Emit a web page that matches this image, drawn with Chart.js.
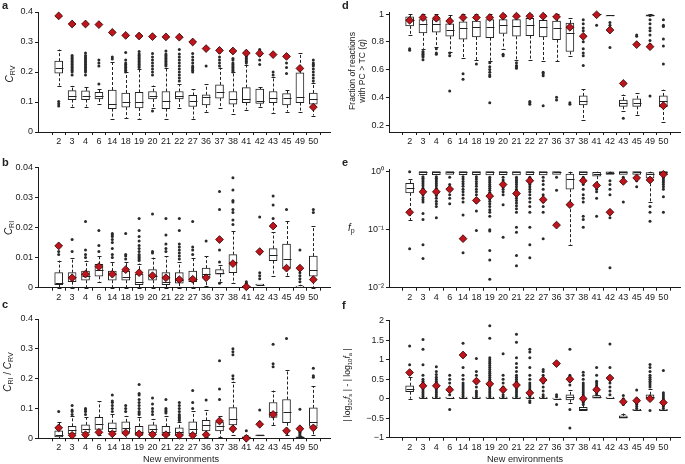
<!DOCTYPE html>
<html lang="en">
<head>
<meta charset="UTF-8">
<title>Box plots per new environment</title>
<script src="https://cdn.jsdelivr.net/npm/chart.js"></script>
<style>
    body {
        margin: 0;
        width: 685px;
        height: 464px;
        position: relative;
        overflow: hidden;
        background: #fff;
        font-family: "Liberation Sans", Arial, sans-serif;
        color: #222;
    }
    canvas { position: absolute; }
    .tag { position: absolute; font-weight: bold; font-size: 11px; line-height: 12px; }
    .ylab {
        position: absolute;
        font-size: 9px;
        line-height: 10px;
        white-space: nowrap;
        text-align: center;
        transform: translate(-50%, -50%) rotate(-90deg);
    }
    .xlab { position: absolute; font-size: 9.2px; transform: translateX(-50%); white-space: nowrap; }
    sub { font-size: 70%; vertical-align: -0.35em; line-height: 0; }
    i { font-style: italic; }
</style>
</head>
<body>
<canvas id="chartA"></canvas>
<canvas id="chartB"></canvas>
<canvas id="chartC"></canvas>
<canvas id="chartD"></canvas>
<canvas id="chartE"></canvas>
<canvas id="chartF"></canvas>

<div class="tag" style="left:2px; top:-1px;">a</div>
<div class="tag" style="left:2px; top:156px;">b</div>
<div class="tag" style="left:2px; top:298px;">c</div>
<div class="tag" style="left:342px; top:-1px;">d</div>
<div class="tag" style="left:342px; top:156px;">e</div>
<div class="tag" style="left:342px; top:299px;">f</div>

<div class="ylab" style="left:10px; top:74px; font-size:10px;"><i>C</i><sub>RV</sub></div>
<div class="ylab" style="left:9px; top:228px; font-size:10px;"><i>C</i><sub>RI</sub></div>
<div class="ylab" style="left:8px; top:372px; font-size:10px;"><i>C</i><sub>RI</sub> / <i>C</i><sub>RV</sub></div>
<div class="ylab" style="left:357px; top:71px; font-size:8.6px;">Fraction of reactions<br>with PC &gt; TC (<i>q</i>)</div>
<div style="position:absolute; left:348px; top:222px; font-size:10px;"><i>f</i><sub>p</sub></div>
<div class="ylab" style="left:347px; top:385px; font-size:8.6px;">| log<sub>10</sub><i>f</i><sub>s</sub> | - | log<sub>10</sub><i>f</i><sub>a</sub> |</div>

<div class="xlab" style="left:181px; top:454px;">New environments</div>
<div class="xlab" style="left:525px; top:454px;">New environments</div>

<script>
// categories
const env = ['2', '3', '4', '6', '14', '18', '19', '20', '21', '22', '27', '36', '37', '38', '41', '42', '43', '45', '49', '50'];

// box stats per environment: [whisker low, q1, median, q3, whisker high]
const boxA = [
    [0.155, 0.196, 0.215, 0.236, 0.275], [0.085, 0.108, 0.12, 0.138, 0.155], [0.085, 0.108, 0.12, 0.137, 0.15],
    [0.095, 0.11, 0.12, 0.132, 0.145], [0.045, 0.078, 0.095, 0.14, 0.235], [0.047, 0.083, 0.1, 0.13, 0.2],
    [0.045, 0.08, 0.1, 0.132, 0.21], [0.08, 0.11, 0.12, 0.135, 0.155], [0.045, 0.078, 0.105, 0.135, 0.215],
    [0.08, 0.11, 0.12, 0.135, 0.16], [0.045, 0.085, 0.102, 0.122, 0.142], [0.068, 0.09, 0.118, 0.124, 0.16],
    [0.08, 0.113, 0.135, 0.157, 0.215], [0.06, 0.093, 0.11, 0.135, 0.2], [0.075, 0.098, 0.11, 0.148, 0.225],
    [0.082, 0.095, 0.105, 0.143, 0.15], [0.062, 0.098, 0.112, 0.135, 0.185], [0.068, 0.09, 0.112, 0.128, 0.14],
    [0.067, 0.098, 0.117, 0.197, 0.262], [0.055, 0.093, 0.11, 0.13, 0.165]
];
const outA = [
    [0.087, 0.094, 0.102],
    [0.19, 0.2, 0.205, 0.21, 0.215, 0.22, 0.225, 0.23, 0.235, 0.24, 0.245, 0.25, 0.255],
    [0.19, 0.2, 0.205, 0.21, 0.215, 0.22, 0.225, 0.23, 0.235, 0.24, 0.245, 0.25, 0.255, 0.263],
    [0.16, 0.22, 0.23, 0.24],
    [0.243, 0.25],
    [0.2, 0.205, 0.21, 0.215, 0.22, 0.225, 0.23, 0.24, 0.265],
    [0.215, 0.22, 0.225, 0.23, 0.235, 0.24, 0.245, 0.25, 0.255, 0.26, 0.268],
    [0.07, 0.19, 0.2, 0.21, 0.22, 0.23, 0.24, 0.25, 0.262],
    [0.22, 0.225, 0.23, 0.235, 0.24, 0.245, 0.25, 0.255, 0.26, 0.27],
    [0.17, 0.18, 0.19, 0.2, 0.21, 0.22, 0.23, 0.24, 0.25, 0.26, 0.275],
    [0.2, 0.205, 0.21, 0.215, 0.22, 0.23, 0.24, 0.25, 0.262],
    [0.22],
    [0.22, 0.23, 0.24, 0.25, 0.265],
    [0.2, 0.205, 0.21, 0.215, 0.22, 0.225, 0.23, 0.24, 0.245],
    [0.23, 0.235, 0.24, 0.245, 0.25, 0.255, 0.26, 0.27],
    [0.225, 0.24, 0.255, 0.265, 0.275],
    [0.19, 0.2],
    [0.195, 0.215, 0.23],
    [],
    [0.17, 0.18, 0.19, 0.2, 0.21, 0.22, 0.225, 0.23, 0.24]
];
const diaA = [0.387, 0.36, 0.36, 0.358, 0.332, 0.322, 0.32, 0.318, 0.317, 0.316, 0.3, 0.278, 0.272, 0.27, 0.263, 0.262, 0.258, 0.252, 0.212, 0.083];

const boxB = [
    [0, 0.001, 0.0015, 0.005, 0.009], [0, 0.002, 0.0035, 0.005, 0.01], [0, 0.0025, 0.004, 0.0055, 0.009],
    [0.002, 0.0038, 0.0058, 0.0078, 0.0105], [0, 0.0025, 0.0045, 0.0055, 0.0085], [0, 0.0025, 0.0035, 0.0055, 0.0085],
    [0, 0.001, 0.002, 0.0045, 0.008], [0, 0.0025, 0.004, 0.006, 0.01], [0, 0.001, 0.002, 0.005, 0.0105],
    [0, 0.0015, 0.0025, 0.005, 0.0085], [0, 0.002, 0.003, 0.0055, 0.01], [0.0005, 0.0035, 0.0045, 0.0065, 0.0105],
    [0.002, 0.0045, 0.005, 0.006, 0.0075], [0.0015, 0.005, 0.0085, 0.011, 0.019], [0, 0, 0.0002, 0.0005, 0.001],
    [0.0008, 0.0009, 0.001, 0.0012, 0.0012], [0.004, 0.009, 0.011, 0.013, 0.0185], [0.004, 0.0065, 0.0095, 0.0145, 0.022],
    [0, 0, 0.0003, 0.0005, 0.001], [0, 0.0038, 0.006, 0.0105, 0.0205]
];
const outB = [
    [0.011, 0.012], [0.012, 0.016], [0.01, 0.011, 0.0125, 0.022], [0.012, 0.014, 0.019],
    [0.01, 0.011, 0.013, 0.015, 0.016, 0.017, 0.0175, 0.018],
    [0.0095, 0.0105, 0.011, 0.018],
    [0.009, 0.0095, 0.01, 0.0105, 0.011, 0.012, 0.013, 0.014, 0.0155, 0.017, 0.019, 0.023],
    [0.0115, 0.012, 0.0245],
    [0.012, 0.013, 0.0145, 0.0175, 0.023],
    [0.0095, 0.0105, 0.0115, 0.0125, 0.0135, 0.0145, 0.019, 0.023],
    [0.011, 0.0125, 0.0135, 0.022],
    [0.0155],
    [0.0015, 0.0085, 0.0125, 0.026, 0.032],
    [0.021, 0.0225, 0.025, 0.026, 0.0285, 0.029, 0.0325, 0.0365],
    [0.0015, 0.002],
    [0.003, 0.004, 0.005, 0.0115, 0.0235],
    [0.023, 0.0275, 0.0305],
    [0.026],
    [0.002, 0.003, 0.004, 0.005, 0.0065, 0.0125],
    [0.025, 0.026]
];
const diaB = [0.0139, 0.0033, 0.0045, 0.007, 0.0045, 0.006, 0.005, 0.004, 0.0033, 0.0027, 0.0028, 0.0033, 0.016, 0.008, 0.0003, 0.012, 0.0205, 0.0065, 0.0065, 0.0027];

const boxC = [
    [0, 0.005, 0.012, 0.025, 0.055], [0, 0.015, 0.028, 0.04, 0.075], [0, 0.018, 0.03, 0.045, 0.07],
    [0.01, 0.03, 0.048, 0.07, 0.125], [0, 0.022, 0.035, 0.052, 0.08], [0, 0.02, 0.035, 0.055, 0.075],
    [0, 0.01, 0.02, 0.04, 0.07], [0, 0.018, 0.03, 0.045, 0.065], [0, 0.01, 0.02, 0.04, 0.075],
    [0, 0.01, 0.02, 0.035, 0.055], [0, 0.015, 0.03, 0.055, 0.09], [0.005, 0.025, 0.045, 0.06, 0.095],
    [0.005, 0.025, 0.04, 0.055, 0.075], [0.01, 0.045, 0.065, 0.103, 0.19], [0, 0, 0.003, 0.005, 0.01],
    [0.008, 0.008, 0.01, 0.012, 0.012], [0.045, 0.07, 0.088, 0.12, 0.16], [0.01, 0.052, 0.088, 0.13, 0.228],
    [0, 0, 0.003, 0.005, 0.008], [0.01, 0.04, 0.055, 0.102, 0.175]
];
const outC = [
    [0.09], [0.08, 0.09, 0.095, 0.11], [0.08, 0.09, 0.095, 0.1], [],
    [0.09, 0.1, 0.11, 0.12, 0.125, 0.145],
    [0.09, 0.1, 0.11],
    [0.08, 0.085, 0.09, 0.1, 0.11, 0.12, 0.13, 0.145, 0.15, 0.18],
    [0.08, 0.09, 0.1, 0.115, 0.135],
    [0.085, 0.09, 0.095, 0.1, 0.13],
    [0.06, 0.065, 0.07, 0.075, 0.08, 0.09, 0.1, 0.11, 0.12],
    [0.1, 0.12, 0.16],
    [0.128],
    [0.13, 0.165, 0.26],
    [0.2, 0.21, 0.28, 0.29, 0.3],
    [0.025],
    [0.045, 0.05, 0.055, 0.095],
    [0.24, 0.25, 0.315],
    [0.335],
    [0.01, 0.015, 0.02, 0.025, 0.03, 0.035, 0.097],
    [0.205, 0.21, 0.235]
];
const diaC = [0.035, 0.01, 0.012, 0.02, 0.015, 0.018, 0.015, 0.013, 0.012, 0.01, 0.01, 0.012, 0.058, 0.032, 0.0, 0.047, 0.08, 0.025, 0.032, 0.035];

const boxD = [
    [0.85, 0.915, 0.96, 0.98, 1.0], [0.75, 0.865, 0.925, 0.96, 1.0], [0.76, 0.87, 0.93, 0.96, 1.0],
    [0.73, 0.84, 0.885, 0.93, 0.99], [0.68, 0.82, 0.9, 0.945, 1.0], [0.67, 0.835, 0.905, 0.95, 1.0],
    [0.66, 0.83, 0.91, 0.96, 1.0], [0.75, 0.86, 0.92, 0.96, 1.0], [0.67, 0.84, 0.915, 0.96, 1.0],
    [0.67, 0.845, 0.92, 0.97, 1.0], [0.66, 0.835, 0.905, 0.955, 1.0], [0.66, 0.815, 0.9, 0.95, 1.0],
    [0.7, 0.73, 0.865, 0.935, 0.97], [0.24, 0.345, 0.375, 0.41, 0.46], [0.99, 0.995, 1.0, 1.0, 1.0],
    [0.985, 0.985, 0.99, 0.99, 0.99], [0.3, 0.335, 0.36, 0.38, 0.42], [0.275, 0.335, 0.36, 0.39, 0.43],
    [0.985, 0.985, 0.99, 0.995, 1.0], [0.22, 0.33, 0.37, 0.41, 0.455]
];
const outD = [
    [0.74, 0.75], [0.67, 0.69, 0.7, 0.71, 0.72, 0.73], [0.71, 0.72, 0.75], [0.445, 0.7, 0.72],
    [0.53, 0.57], [0.64], [0.36, 0.55, 0.56, 0.58, 0.6, 0.62, 0.65], [0.7, 0.71],
    [0.61, 0.62, 0.63, 0.65], [0.35, 0.36, 0.37], [0.34, 0.555, 0.57, 0.58], [0.38, 0.4],
    [0.35, 0.36], [0.63, 0.7, 0.72, 0.75, 0.8, 0.85, 0.88, 0.9, 0.93, 0.96], [0.92],
    [0.76, 0.9, 0.92, 0.94], [0.25], [0.84, 0.85],
    [0.41, 0.78, 0.81, 0.85, 0.88, 0.9, 0.93, 0.96, 0.99], [0.64, 0.77, 0.82, 0.91, 0.92, 0.96]
];
const diaD = [0.955, 0.975, 0.97, 0.95, 0.975, 0.975, 0.975, 0.985, 0.985, 0.985, 0.985, 0.98, 0.905, 0.84, 0.995, 0.885, 0.5, 0.78, 0.765, 0.34];

const boxE = [
    [0.147, 0.43, 0.53, 0.63, 0.74], [0.89, 0.89, 0.97, 1.0, 1.0], [0.89, 0.89, 0.97, 1.0, 1.0],
    [0.9, 0.9, 0.97, 1.0, 1.0], [0.89, 0.89, 0.97, 1.0, 1.0], [0.89, 0.89, 0.97, 1.0, 1.0],
    [0.88, 0.88, 0.97, 1.0, 1.0], [0.89, 0.89, 0.97, 1.0, 1.0], [0.88, 0.88, 0.97, 1.0, 1.0],
    [0.89, 0.89, 0.97, 1.0, 1.0], [0.88, 0.88, 0.97, 1.0, 1.0], [0.9, 0.9, 0.97, 1.0, 1.0],
    [0.055, 0.5, 0.74, 0.91, 1.0], [0.89, 0.89, 0.97, 1.0, 1.0], [0.6, 0.84, 0.93, 0.975, 1.0],
    [0.9, 0.9, 0.96, 0.99, 1.0], [0.9, 0.9, 0.97, 1.0, 1.0], [0.9, 0.9, 0.97, 1.0, 1.0],
    [0.3, 0.77, 0.9, 0.97, 1.0], [0.88, 0.88, 0.97, 1.0, 1.0]
];
const outE = [
    [0.047, 1.0],
    [0.032, 0.055, 0.15, 0.19, 0.3, 0.33, 0.36, 0.4, 0.44, 0.48, 0.52, 0.57, 0.62, 0.67, 0.72, 0.77, 0.82],
    [0.16, 0.25, 0.28, 0.31, 0.35, 0.39, 0.43, 0.47, 0.52, 0.57, 0.62, 0.67, 0.72, 0.77, 0.82],
    [0.28, 0.35, 0.4, 0.6, 0.8],
    [0.04, 0.18, 0.3, 0.35, 0.4, 0.45, 0.5, 0.56, 0.62, 0.68, 0.75, 0.82],
    [0.097, 0.21, 0.3, 0.4, 0.45, 0.5, 0.56, 0.62, 0.68, 0.75, 0.82],
    [0.014, 0.03, 0.044, 0.095, 0.1, 0.17, 0.2, 0.22, 0.25, 0.28, 0.31, 0.34, 0.37, 0.4, 0.44, 0.48, 0.52, 0.56, 0.6, 0.65, 0.7, 0.75, 0.8],
    [0.074, 0.27, 0.4, 0.45, 0.5, 0.55, 0.65, 0.72, 0.8],
    [0.024, 0.036, 0.09, 0.11, 0.2, 0.23, 0.26, 0.29, 0.32, 0.35, 0.38, 0.42, 0.46, 0.5, 0.55, 0.6, 0.65, 0.7, 0.75, 0.8],
    [0.033, 0.055, 0.11, 0.2, 0.25, 0.3, 0.35, 0.4, 0.45, 0.5, 0.55, 0.6, 0.65, 0.7, 0.75, 0.8],
    [0.07, 0.2, 0.25, 0.3, 0.35, 0.4, 0.5, 0.6, 0.7, 0.8],
    [0.48, 0.8],
    [],
    [0.11, 0.15, 0.17, 0.3, 0.35, 0.4, 0.5, 0.6, 0.7, 0.8],
    [0.17, 0.35, 0.45, 0.5],
    [0.022, 0.16, 0.4, 0.5, 0.6, 0.7],
    [0.3, 0.7, 0.8],
    [0.55, 0.7],
    [0.14, 0.2, 0.25],
    [0.2, 0.37, 0.5, 0.55, 0.6, 0.65, 0.7, 0.75, 0.8]
];
const diaE = [0.2, 0.45, 0.45, 0.5, 0.07, 0.32, 0.38, 0.6, 0.42, 0.7, 0.33, 0.12, 0.27, 0.7, 0.58, 0.2, 0.68, 0.78, 0.72, 0.9];

const boxF = [
    [0.0, 0.18, 0.26, 0.333, 0.55], [0, 0, 0.01, 0.04, 0.04], [0, 0, 0.01, 0.04, 0.04],
    [0, 0, 0.01, 0.04, 0.04], [0, 0, 0.01, 0.04, 0.04], [0, 0, 0.01, 0.04, 0.04],
    [0, 0, 0.01, 0.04, 0.04], [0, 0, 0.01, 0.04, 0.04], [0, 0, 0.01, 0.04, 0.04],
    [0, 0, 0.01, 0.04, 0.04], [0, 0, 0.01, 0.04, 0.04], [0, 0, 0, 0.01, 0.01],
    [-0.1, -0.03, 0.05, 0.1, 0.22], [-0.31, -0.31, -0.27, -0.22, 0.0], [0, 0, 0.04, 0.08, 0.1],
    [0, 0, 0.02, 0.04, 0.04], [-0.5, -0.5, -0.47, -0.44, -0.38], [-0.3, -0.3, -0.29, -0.27, -0.27],
    [0, 0, 0.05, 0.1, 0.25], [-0.3, -0.3, -0.29, -0.27, -0.27]
];
const outF = [
    [0.87, 1.35],
    [0.05, 0.1, 0.15, 0.2, 0.25, 0.3, 0.35, 0.4, 0.45, 0.5, 0.6, 0.87, 1.27, 1.52],
    [0.05, 0.1, 0.15, 0.2, 0.25, 0.3, 0.35, 0.4, 0.45, 0.5, 0.55, 0.62, 0.7, 0.82],
    [-0.28, 0.1, 0.2, 0.3, 0.4, 0.5, 0.6],
    [0.05, 0.1, 0.15, 0.2, 0.25, 0.3, 0.35, 0.4, 0.5, 0.6, 0.8, 1.42],
    [0.05, 0.1, 0.15, 0.2, 0.3, 0.4, 0.5, 0.6, 0.7, 1.03],
    [0.05, 0.1, 0.15, 0.2, 0.25, 0.3, 0.35, 0.4, 0.45, 0.5, 0.55, 0.6, 0.65, 0.7, 0.75, 0.8, 0.85, 0.9, 0.95, 1.0, 1.05, 1.55, 1.87],
    [0.05, 0.1, 0.2, 0.3, 0.4, 0.5, 0.6, 1.15],
    [0.05, 0.1, 0.15, 0.2, 0.25, 0.3, 0.35, 0.4, 0.45, 0.5, 0.55, 0.6, 0.7, 0.8, 0.9, 1.05, 1.45, 1.65],
    [-0.1, -0.05, 0.05, 0.1, 0.15, 0.2, 0.25, 0.3, 0.35, 0.4, 0.5, 0.6, 0.8, 1.05, 1.2, 1.27],
    [0.05, 0.1, 0.2, 0.3, 0.4, 0.5, 0.6, 0.7, 0.75],
    [-0.15, 0.05, 0.1],
    [-0.75, -0.28, 0.35, 0.45, 0.55, 0.6, 1.27],
    [-0.15, -0.1, -0.05, 0.05, 0.1, 0.15, 0.2, 0.25, 0.3, 0.35, 0.4, 0.5, 0.6, 0.68],
    [0.1, 0.15, 0.2, 0.25, 0.3, 0.35, 0.4, 0.45, 0.6, 0.8],
    [0.1, 0.2, 0.3, 0.4, 0.8, 1.4],
    [-0.15, -0.1, -0.05, 0.0, 0.08],
    [-0.25, -0.2, -0.15, -0.1, 0.0, 0.22],
    [-0.3, 0.3, 0.35, 0.4, 0.45, 0.5, 0.55, 0.6, 0.7, 0.8, 0.88],
    [-0.25, -0.2, -0.15, -0.1, -0.05, 0.0, 0.05, 0.1, 0.15, 0.72]
];
const diaF = [0.67, 0.33, 0.33, 0.23, 1.12, 0.45, 0.38, 0.23, 0.35, 0.15, 0.48, 0.9, 0.5, 0.0, 0.23, 0.53, -0.08, -0.05, 0.0, -0.1];

// y tick values per panel
const ticksA = [0, 0.1, 0.2, 0.3, 0.4];
const ticksB = [0, 0.01, 0.02, 0.03, 0.04];
const ticksC = [0, 0.1, 0.2, 0.3, 0.4];
const ticksD = [0.2, 0.4, 0.6, 0.8, 1];
const ticksE = [0.01, 0.1, 1];
const ticksF = [-1, -0.5, 0, 0.5, 1, 1.5, 2];

const ink = '#1a1a1a';
const tickFont = { family: '"Liberation Sans", Arial, sans-serif', size: 9 };

// whiskers and medians, drawn right after the boxes
const whiskers = {
    id: 'whiskers',
    afterDatasetDraw(chart, args) {
        const ds = chart.data.datasets[args.index];
        if (!ds.stats) return;
        const xs = chart.scales.x, ys = chart.scales.y, ctx = chart.ctx;
        ctx.save();
        ctx.strokeStyle = '#222';
        ctx.lineWidth = 1;
        ds.stats.forEach((b, i) => {
            const px = Math.round(xs.getPixelForValue(i + 1)) + 0.5;
            const [lo, q1, med, q3, hi] = b.map(v => ys.getPixelForValue(v));
            ctx.setLineDash([3, 2]);
            ctx.beginPath();
            if (b[4] > b[3]) { ctx.moveTo(px, q3); ctx.lineTo(px, hi); }
            if (b[0] < b[1]) { ctx.moveTo(px, q1); ctx.lineTo(px, lo); }
            ctx.stroke();
            ctx.setLineDash([]);
            ctx.beginPath();
            if (b[4] > b[3]) { ctx.moveTo(px - 2, Math.round(hi) + 0.5); ctx.lineTo(px + 2, Math.round(hi) + 0.5); }
            if (b[0] < b[1]) { ctx.moveTo(px - 2, Math.round(lo) + 0.5); ctx.lineTo(px + 2, Math.round(lo) + 0.5); }
            ctx.moveTo(px - 4, Math.round(med) + 0.5);
            ctx.lineTo(px + 4, Math.round(med) + 0.5);
            ctx.stroke();
        });
        ctx.restore();
    }
};

function makePanel(id, geo, box, out, dia, yopt) {
    const cv = document.getElementById(id);
    cv.width = geo.w;
    cv.height = geo.h;
    cv.style.left = geo.l + 'px';
    cv.style.top = geo.t + 'px';

    const axisGrid = { display: true, drawOnChartArea: false, drawTicks: true, tickLength: 3, color: ink, lineWidth: 1 };
    const axisBorder = { display: true, color: ink, width: 1 };

    return new Chart(cv.getContext('2d'), {
        type: 'bar',
        data: {
            datasets: [
                {
                    type: 'scatter',
                    order: 0,
                    data: dia.map((v, i) => ({ x: i + 1, y: v })),
                    pointStyle: 'rectRot',
                    pointRadius: 3.9,
                    backgroundColor: '#c0141c',
                    borderColor: '#2a0000',
                    borderWidth: 0.8,
                    clip: false
                },
                {
                    type: 'scatter',
                    order: 1,
                    data: out.flatMap((vals, i) => vals.map(v => ({ x: i + 1, y: v }))),
                    pointRadius: 1.5,
                    backgroundColor: '#2a2a2a',
                    borderWidth: 0,
                    clip: false
                },
                {
                    type: 'bar',
                    order: 2,
                    stats: box,
                    data: box.map((b, i) => ({ x: i + 1, y: [b[1], b[3]] })),
                    backgroundColor: '#fff',
                    borderColor: '#222',
                    borderWidth: 1,
                    borderSkipped: false,
                    barThickness: 8
                }
            ]
        },
        options: {
            responsive: false,
            animation: false,
            events: [],
            layout: { padding: { left: 0, top: geo.ct - geo.t, right: geo.l + geo.w - geo.cr, bottom: 0 } },
            plugins: { legend: { display: false }, tooltip: { enabled: false } },
            scales: {
                x: {
                    type: 'linear',
                    min: 0,
                    max: 20.7,
                    afterFit: s => { s.height = geo.t + geo.h - geo.cb; },
                    afterBuildTicks: s => { s.ticks = env.map((e, i) => ({ value: i + 1 })); },
                    ticks: { font: tickFont, color: ink, padding: 1, autoSkip: false, maxRotation: 0, callback: v => env[v - 1] },
                    grid: axisGrid,
                    border: axisBorder
                },
                y: {
                    type: yopt.type || 'linear',
                    min: yopt.min,
                    max: yopt.max,
                    afterFit: s => { s.width = geo.cl - geo.l; },
                    afterBuildTicks: s => { s.ticks = yopt.ticks.map(v => ({ value: v })); },
                    ticks: { font: tickFont, color: ink, padding: 2, callback: yopt.fmt || (v => String(v)) },
                    grid: axisGrid,
                    border: axisBorder
                }
            }
        },
        plugins: [whiskers]
    });
}

const minusFmt = v => (v < 0 ? '\u2212' + Math.abs(v) : String(v));
const logFmt = v => ({ 0.01: '10\u207B\u00B2', 0.1: '10\u207B\u00B9', 1: '10\u2070' })[v];

makePanel('chartA', { l: 0, t: 0, w: 340, h: 152, cl: 38, ct: 12, cr: 330, cb: 132 }, boxA, outA, diaA,
    { min: 0, max: 0.4, ticks: ticksA });
makePanel('chartB', { l: 0, t: 150, w: 340, h: 155, cl: 38, ct: 167.3, cr: 330, cb: 287.7 }, boxB, outB, diaB,
    { min: 0, max: 0.04, ticks: ticksB });
makePanel('chartC', { l: 0, t: 300, w: 340, h: 155, cl: 38, ct: 319, cr: 330, cb: 438.3 }, boxC, outC, diaC,
    { min: 0, max: 0.4, ticks: ticksC });
makePanel('chartD', { l: 340, t: 0, w: 345, h: 152, cl: 389, ct: 12.7, cr: 680, cb: 132 }, boxD, outD, diaD,
    { min: 0.15, max: 1.01, ticks: ticksD });
makePanel('chartE', { l: 340, t: 150, w: 345, h: 155, cl: 389, ct: 169.3, cr: 680, cb: 287.7 }, boxE, outE, diaE,
    { type: 'logarithmic', min: 0.01, max: 1.1, ticks: ticksE, fmt: logFmt });
makePanel('chartF', { l: 340, t: 300, w: 345, h: 155, cl: 389, ct: 320.7, cr: 680, cb: 437.7 }, boxF, outF, diaF,
    { min: -1, max: 2, ticks: ticksF, fmt: minusFmt });
</script>
</body>
</html>
